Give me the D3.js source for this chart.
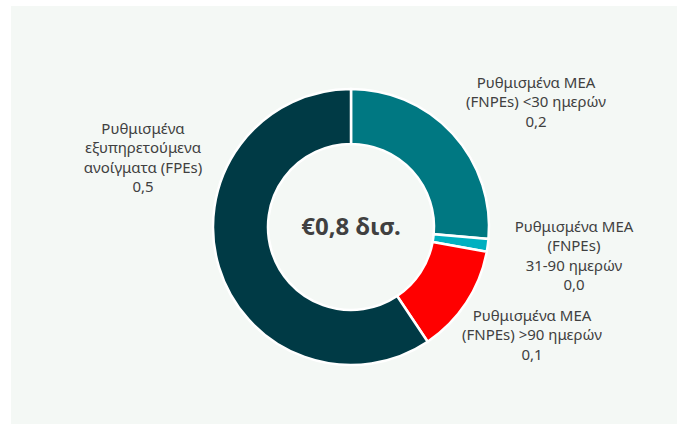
<!DOCTYPE html>
<html>
<head>
<meta charset="utf-8">
<script src="https://cdn.jsdelivr.net/npm/d3@7"></script>
<style>
    body { margin: 0; background: #ffffff; }
    text { font-family: "Noto Sans", sans-serif; }
</style>
</head>
<body>
<svg id="donut"></svg>
<script>
// segments, clockwise from 12 o'clock
const categories = ["lt30", "d31to90", "gt90", "fpe"];
const values = [0.211, 0.012, 0.102, 0.475];
const labelLines = [
    ["Ρυθμισμένα ΜΕΑ", "(FNPEs) <30 ημερών", "0,2"],
    ["Ρυθμισμένα ΜΕΑ", "(FNPEs)", "31-90 ημερών", "0,0"],
    ["Ρυθμισμένα ΜΕΑ", "(FNPEs) >90 ημερών", "0,1"],
    ["Ρυθμισμένα", "εξυπηρετούμενα", "ανοίγματα (FPEs)", "0,5"]
];
const totalLabel = "€0,8 δισ.";

const colors = ["#007882", "#00b0c0", "#ff0000", "#003a45"];
// label block centres relative to donut centre (first line baseline)
const labelPos = [[185, -139], [223, 5], [181, 94], [-208, -93]];

const W = 677, H = 432;
const cx = 351, cy = 227;
const outerR = 138, innerR = 83;
const lineH = 19.3;

const svg = d3.select("#donut").attr("width", W).attr("height", H);

svg.append("rect")
    .attr("x", 11).attr("y", 6)
    .attr("width", W - 11).attr("height", 418)
    .attr("fill", "#f4f8f5");

const g = svg.append("g").attr("transform", "translate(" + cx + "," + cy + ")");

const pie = d3.pie().sort(null).value(d => d.value);
const arc = d3.arc().innerRadius(innerR).outerRadius(outerR);

const data = categories.map((c, i) => ({ id: c, value: values[i] }));

g.selectAll("path")
    .data(pie(data))
    .enter()
    .append("path")
    .attr("d", arc)
    .attr("fill", (d, i) => colors[i])
    .attr("stroke", "#ffffff")
    .attr("stroke-width", 2.5)
    .attr("stroke-linejoin", "miter");

// labels
labelLines.forEach((lines, i) => {
    const t = g.append("text")
        .attr("text-anchor", "middle")
        .attr("fill", "#404040")
        .style("font-size", "15px");
    lines.forEach((ln, j) => {
        t.append("tspan")
            .attr("x", labelPos[i][0])
            .attr("y", labelPos[i][1] + j * lineH)
            .text(ln);
    });
});

g.append("text")
    .attr("text-anchor", "middle")
    .attr("y", 8)
    .attr("fill", "#404040")
    .style("font-size", "24px")
    .style("font-weight", "bold")
    .text(totalLabel);
</script>
</body>
</html>
